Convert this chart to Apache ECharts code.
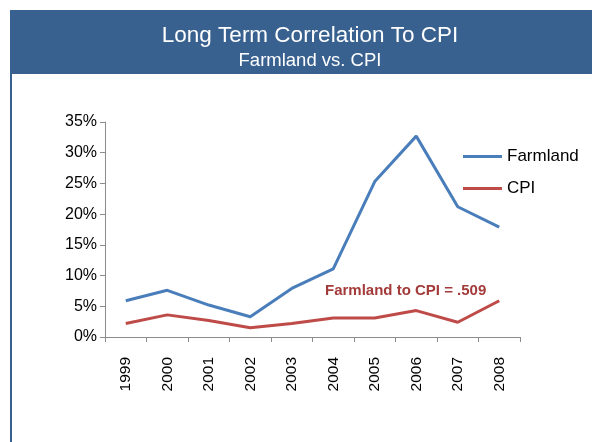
<!DOCTYPE html>
<html lang="en">
<head>
    <meta charset="UTF-8">
    <title>Long Term Correlation To CPI</title>
    <style>
        html, body { margin: 0; padding: 0; background: #fff; }
    </style>
</head>
<body>
<div id="main" style="width: 592px;height:442px;"></div>
<script src="https://cdn.jsdelivr.net/npm/echarts@6/dist/echarts.min.js"></script>
<script type="text/javascript">
    var years = ['1999', '2000', '2001', '2002', '2003', '2004', '2005', '2006', '2007', '2008'];
    var farmland = [5.9, 7.6, 5.2, 3.3, 7.9, 11.1, 25.3, 32.7, 21.2, 17.9];
    var cpi = [2.2, 3.6, 2.7, 1.5, 2.2, 3.1, 3.1, 4.3, 2.4, 5.9];
    var note = 'Farmland to CPI = .509';

    var font = '"Liberation Sans", Arial, sans-serif';
    var myChart = echarts.init(document.getElementById('main'));

    myChart.setOption({
        animation: false,
        textStyle: { fontFamily: font },
        title: [{
            text: 'Long Term Correlation To CPI',
            left: 305,
            top: 19,
            textAlign: 'center',
            textStyle: { color: '#fff', fontSize: 22.5, fontWeight: 'normal', fontFamily: font }
        }, {
            text: 'Farmland vs. CPI',
            left: 305,
            top: 46,
            textAlign: 'center',
            textStyle: { color: '#fff', fontSize: 18.5, fontWeight: 'normal', fontFamily: font }
        }],
        graphic: [
            // header band
            { type: 'rect', z: -1, shape: { x: 10, y: 10, width: 582, height: 64 }, style: { fill: '#38618F' } },
            // left border line
            { type: 'rect', z: -1, shape: { x: 10, y: 74, width: 2, height: 368 }, style: { fill: '#38618F' } },
            {
                type: 'text', left: 325, top: 283,
                style: { text: note, fill: '#A33B3A', font: 'bold 15px ' + font }
            }
        ],
        legend: {
            left: 458,
            top: 143,
            orient: 'vertical',
            itemGap: 15,
            itemWidth: 39,
            itemHeight: 3,
            icon: 'rect',
            textStyle: { fontSize: 17, color: '#000', fontFamily: font },
            data: ['Farmland', 'CPI']
        },
        grid: { left: 105, right: 72, top: 122, bottom: 105 },
        xAxis: {
            type: 'category',
            data: years,
            boundaryGap: true,
            axisLine: { lineStyle: { color: '#8C8C8C' } },
            axisTick: { show: true, inside: false, length: 5, lineStyle: { color: '#8C8C8C' } },
            axisLabel: { rotate: 90, color: '#000', fontSize: 15.5, margin: 20, fontFamily: font }
        },
        yAxis: {
            type: 'value',
            min: 0,
            max: 35,
            interval: 5,
            axisLine: { show: true, lineStyle: { color: '#8C8C8C' } },
            axisTick: { show: true, length: 5, lineStyle: { color: '#8C8C8C' } },
            splitLine: { show: false },
            axisLabel: { formatter: '{value}%', color: '#000', fontSize: 16, margin: 8, fontFamily: font }
        },
        series: [{
            name: 'Farmland',
            type: 'line',
            data: farmland,
            symbol: 'none',
            lineStyle: { color: '#4A7EBB', width: 3 },
            itemStyle: { color: '#4A7EBB' }
        }, {
            name: 'CPI',
            type: 'line',
            data: cpi,
            symbol: 'none',
            lineStyle: { color: '#BE4B48', width: 3 },
            itemStyle: { color: '#BE4B48' }
        }]
    });
</script>
</body>
</html>
